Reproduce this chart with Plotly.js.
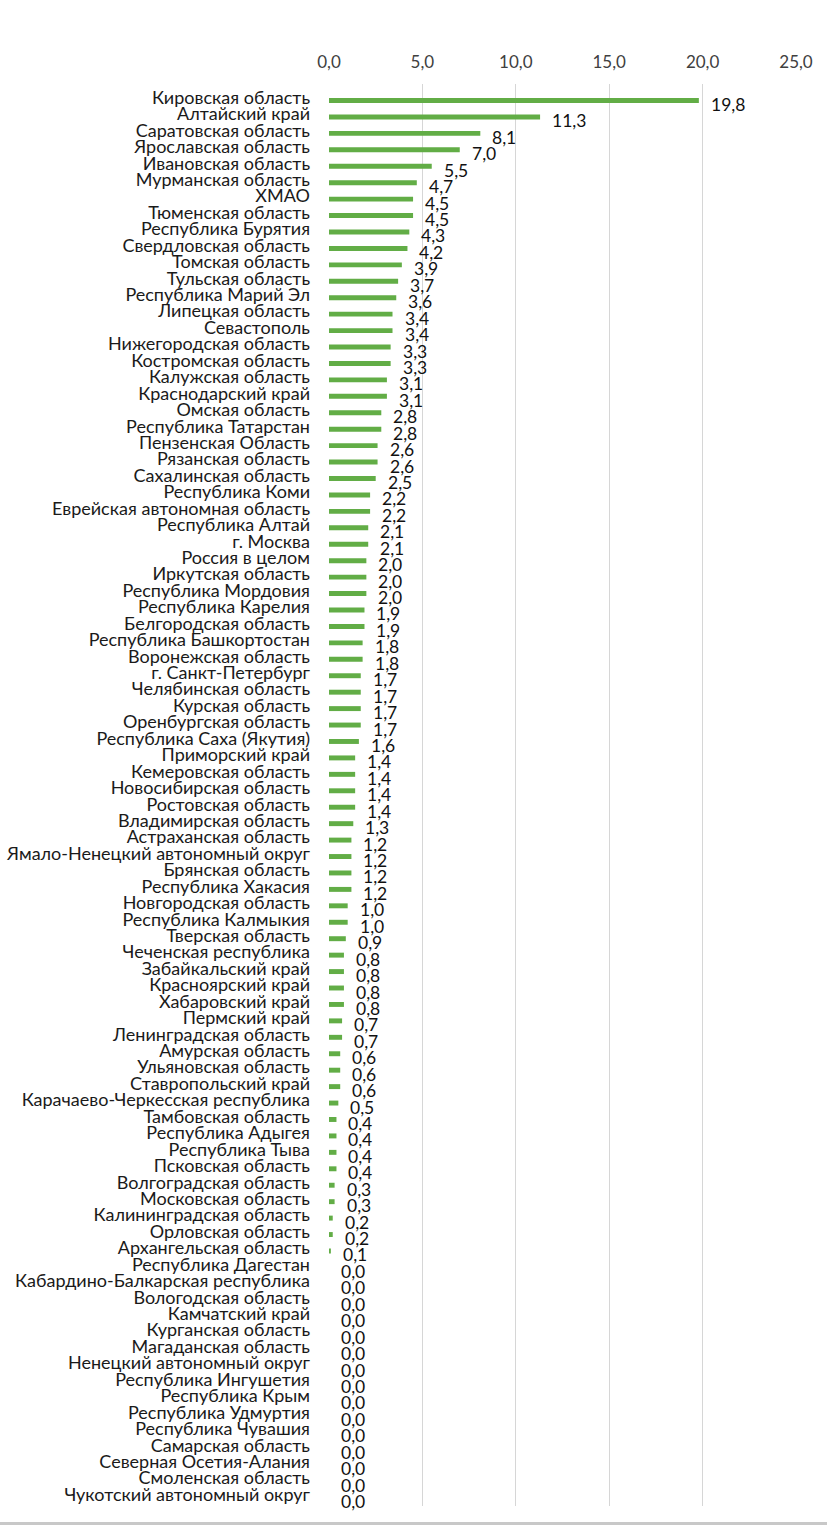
<!DOCTYPE html>
<html>
<head>
<meta charset="utf-8">
<script src="https://cdn.plot.ly/plotly-3.0.1.min.js"></script>
<style>
html,body{margin:0;padding:0;background:#fff;}
#chart{width:827px;height:1522px;}
#bottom{width:827px;height:3px;background:#c8c8c8;}
</style>
</head>
<body>
<div id="chart"></div>
<div id="bottom"></div>
<script>
const regions = [
"Кировская область","Алтайский край","Саратовская область","Ярославская область","Ивановская область",
"Мурманская область","ХМАО","Тюменская область","Республика Бурятия","Свердловская область",
"Томская область","Тульская область","Республика Марий Эл","Липецкая область","Севастополь",
"Нижегородская область","Костромская область","Калужская область","Краснодарский край","Омская область",
"Республика Татарстан","Пензенская Область","Рязанская область","Сахалинская область","Республика Коми",
"Еврейская автономная область","Республика Алтай","г. Москва","Россия в целом","Иркутская область",
"Республика Мордовия","Республика Карелия","Белгородская область","Республика Башкортостан","Воронежская область",
"г. Санкт-Петербург","Челябинская область","Курская область","Оренбургская область","Республика Саха (Якутия)",
"Приморский край","Кемеровская область","Новосибирская область","Ростовская область","Владимирская область",
"Астраханская область","Ямало-Ненецкий автономный округ","Брянская область","Республика Хакасия","Новгородская область",
"Республика Калмыкия","Тверская область","Чеченская республика","Забайкальский край","Красноярский край",
"Хабаровский край","Пермский край","Ленинградская область","Амурская область","Ульяновская область",
"Ставропольский край","Карачаево-Черкесская республика","Тамбовская область","Республика Адыгея","Республика Тыва",
"Псковская область","Волгоградская область","Московская область","Калининградская область","Орловская область",
"Архангельская область","Республика Дагестан","Кабардино-Балкарская республика","Вологодская область","Камчатский край",
"Курганская область","Магаданская область","Ненецкий автономный округ","Республика Ингушетия","Республика Крым",
"Республика Удмуртия","Республика Чувашия","Самарская область","Северная Осетия-Алания","Смоленская область",
"Чукотский автономный округ"
];
const values = [
19.8,11.3,8.1,7.0,5.5,
4.7,4.5,4.5,4.3,4.2,
3.9,3.7,3.6,3.4,3.4,
3.3,3.3,3.1,3.1,2.8,
2.8,2.6,2.6,2.5,2.2,
2.2,2.1,2.1,2.0,2.0,
2.0,1.9,1.9,1.8,1.8,
1.7,1.7,1.7,1.7,1.6,
1.4,1.4,1.4,1.4,1.3,
1.2,1.2,1.2,1.2,1.0,
1.0,0.9,0.8,0.8,0.8,
0.8,0.7,0.7,0.6,0.6,
0.6,0.5,0.4,0.4,0.4,
0.4,0.3,0.3,0.2,0.2,
0.1,0.0,0.0,0.0,0.0,
0.0,0.0,0.0,0.0,0.0,
0.0,0.0,0.0,0.0,0.0,
0.0
];
const xTickVals = [0,5,10,15,20,25];
const xTickText = ["0,0","5,0","10,0","15,0","20,0","25,0"];

const fmt = v => v.toFixed(1).replace('.', ',');

const trace = {
  type: 'bar',
  orientation: 'h',
  x: values,
  y: regions,
  marker: {color: '#62ad46'},
  hoverinfo: 'x+y'
};

const annotations = regions.map((r, i) => ({
  x: values[i], y: r, xref: 'x', yref: 'y',
  text: fmt(values[i]), showarrow: false,
  xanchor: 'left', yanchor: 'middle', xshift: 10, yshift: -4,
  font: {family: 'Lato, sans-serif', size: 17.5, color: '#111'}
}));

const layout = {
  width: 827, height: 1522,
  margin: {l: 329, r: 31, t: 84, b: 16},
  paper_bgcolor: '#fff', plot_bgcolor: '#fff',
  bargap: 0.7,
  showlegend: false,
  font: {family: 'Lato, sans-serif', size: 17, color: '#222'},
  xaxis: {
    side: 'top', range: [0, 25], tickmode: 'array', tickvals: xTickVals, ticktext: xTickText,
    showgrid: true, gridcolor: '#d6d6d6', gridwidth: 1,
    zeroline: false, showline: false, ticks: '',
    ticklabelstandoff: 12,
    tickfont: {family: 'Lato, sans-serif', size: 17, color: '#404040'}
  },
  yaxis: {
    type: 'category', autorange: 'reversed',
    tickmode: 'array', tickvals: regions, ticktext: regions,
    showgrid: false, zeroline: false, showline: false, ticks: '',
    ticklabelstandoff: 18, ticklabelshift: 3,
    tickfont: {family: 'Lato, sans-serif', size: 18, color: '#1a1a1a'}
  },
  annotations: annotations
};

Plotly.newPlot('chart', [trace], layout, {displayModeBar: false, staticPlot: true});
</script>
</body>
</html>
